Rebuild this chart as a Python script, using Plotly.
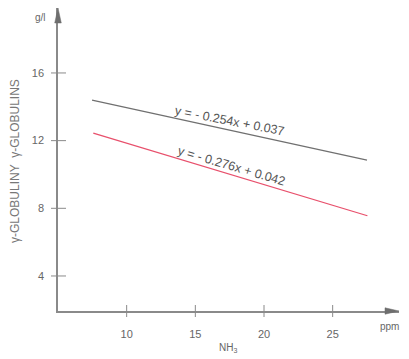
import plotly.graph_objects as go

# Regression lines: gamma-globulin level (g/l) against NH3 exposure (ppm)
nh3_globuliny = [7.48, 27.50]
gl_globuliny = [14.40, 10.85]
eq_globuliny = "y = - 0.254x + 0.037"

nh3_globulins = [7.57, 27.53]
gl_globulins = [12.45, 7.56]
eq_globulins = "y = - 0.276x + 0.042"

x_ticks = [10, 15, 20, 25]
y_ticks = [4, 8, 12, 16]
x_range = [5, 29.83]
y_range = [1.93, 19.84]

GRAY_LINE = "#707070"
RED_LINE = "#e8506c"
AXIS = "#8a8a8a"
HEAD = "#6e6e6e"
TEXT = "#666666"
FONT = "Liberation Sans, Arial, sans-serif"

W, H = 409, 359
ML, MR, MT, MB = 58, 10, 8, 48
pw, ph = W - ML - MR, H - MT - MB

fig = go.Figure()
fig.add_trace(go.Scatter(x=nh3_globuliny, y=gl_globuliny, mode="lines",
                         line=dict(color=GRAY_LINE, width=1.3), hoverinfo="skip"))
fig.add_trace(go.Scatter(x=nh3_globulins, y=gl_globulins, mode="lines",
                         line=dict(color=RED_LINE, width=1.3), hoverinfo="skip"))

shapes = []
# crossing tick marks on both axes
for t in y_ticks:
    shapes.append(dict(type="line", xref="paper", yref="y", xsizemode="pixel",
                       xanchor=0, x0=-7, x1=8, y0=t, y1=t,
                       line=dict(color=AXIS, width=1)))
for t in x_ticks:
    shapes.append(dict(type="line", xref="x", yref="paper", ysizemode="pixel",
                       yanchor=0, y0=-6, y1=6, x0=t, x1=t,
                       line=dict(color=AXIS, width=1)))

# arrowheads at the ends of both axes (paper refs so they are not clipped)
shapes.append(dict(type="path", xref="paper", yref="paper", xsizemode="pixel", ysizemode="pixel",
                   xanchor=0, yanchor=1,
                   path="M-3.3,-15 L0,0 L3.3,-15 Z",
                   fillcolor=HEAD, line=dict(color=HEAD, width=0.5)))
shapes.append(dict(type="path", xref="paper", yref="paper", xsizemode="pixel", ysizemode="pixel",
                   xanchor=1, yanchor=0,
                   path="M-14,-3.2 L0,0 L-14,3.2 Z",
                   fillcolor=HEAD, line=dict(color=HEAD, width=0.5)))

annotations = []


def label_on_line(xs, ys, xpos, text, angle):
    frac = (xpos - xs[0]) / (xs[1] - xs[0])
    ypos = ys[0] + frac * (ys[1] - ys[0])
    return dict(x=xpos, y=ypos, xref="x", yref="y", text=text, showarrow=False,
                textangle=angle, yshift=9, xanchor="center", yanchor="middle",
                font=dict(family=FONT, size=12.5, color="#555555"))


annotations.append(label_on_line(nh3_globuliny, gl_globuliny, 17.5, eq_globuliny, 11))
annotations.append(label_on_line(nh3_globulins, gl_globulins, 17.6, eq_globulins, 16.5))


def pixel_label(px, py, text, size, color=TEXT, angle=0):
    return dict(x=(px - ML) / pw, y=1 - (py - MT) / ph, xref="paper", yref="paper",
                xanchor="center", yanchor="middle", text=text, showarrow=False,
                textangle=angle, font=dict(family=FONT, size=size, color=color))


# unit and axis labels
annotations.append(pixel_label(40, 17, "g/l", 10))
annotations.append(pixel_label(389, 326, "ppm", 10))
annotations.append(pixel_label(228, 348, "NH<sub>3</sub>", 10))
annotations.append(pixel_label(15, 161, "γ-GLOBULINY  γ-GLOBULINS", 12, "#777777", -90))

fig.update_layout(
    width=W, height=H,
    margin=dict(l=ML, r=MR, t=MT, b=MB),
    paper_bgcolor="white", plot_bgcolor="white",
    showlegend=False,
    shapes=shapes, annotations=annotations,
    xaxis=dict(range=x_range, tickvals=x_ticks, showgrid=False, zeroline=False,
               showline=True, linecolor=AXIS, linewidth=1.5,
               ticks="", ticklabelstandoff=12,
               tickfont=dict(family=FONT, size=11, color=TEXT)),
    yaxis=dict(range=y_range, tickvals=y_ticks, showgrid=False, zeroline=False,
               showline=True, linecolor=AXIS, linewidth=1.5,
               ticks="", ticklabelstandoff=10,
               tickfont=dict(family=FONT, size=11, color=TEXT)),
)

fig.write_html("out.html")
